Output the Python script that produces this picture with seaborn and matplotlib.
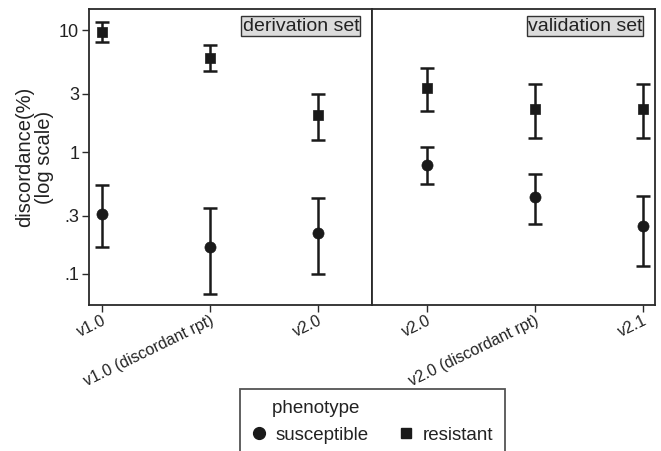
import numpy as np
import pandas as pd
import matplotlib
matplotlib.use("Agg")
import matplotlib.pyplot as plt
from matplotlib.lines import Line2D
import seaborn as sns

# data (discordance %, log scale)
derivation_versions = ["v1.0", "v1.0 (discordant rpt)", "v2.0"]
validation_versions = ["v2.0", "v2.0 (discordant rpt)", "v2.1"]

deriv_resistant = [9.7, 5.85, 2.03]
deriv_resistant_lo = [8.0, 4.6, 1.26]
deriv_resistant_hi = [11.6, 7.5, 3.0]
deriv_susceptible = [0.31, 0.166, 0.218]
deriv_susceptible_lo = [0.166, 0.068, 0.099]
deriv_susceptible_hi = [0.54, 0.347, 0.417]

valid_resistant = [3.32, 2.24, 2.24]
valid_resistant_lo = [2.19, 1.30, 1.30]
valid_resistant_hi = [4.9, 3.58, 3.58]
valid_susceptible = [0.787, 0.425, 0.247]
valid_susceptible_lo = [0.546, 0.258, 0.117]
valid_susceptible_hi = [1.10, 0.664, 0.433]

y_ticks = [0.1, 0.3, 1, 3, 10]
y_tick_labels = [".1", ".3", "1", "3", "10"]
panel_titles = ["derivation set", "validation set"]


def make_frame(versions, res, res_lo, res_hi, sus, sus_lo, sus_hi):
    rows = []
    for v, m, lo, hi in zip(versions, sus, sus_lo, sus_hi):
        rows.append({"version": v, "phenotype": "susceptible", "value": m, "lo": lo, "hi": hi})
    for v, m, lo, hi in zip(versions, res, res_lo, res_hi):
        rows.append({"version": v, "phenotype": "resistant", "value": m, "lo": lo, "hi": hi})
    return pd.DataFrame(rows)


panels = [
    make_frame(derivation_versions, deriv_resistant, deriv_resistant_lo, deriv_resistant_hi,
               deriv_susceptible, deriv_susceptible_lo, deriv_susceptible_hi),
    make_frame(validation_versions, valid_resistant, valid_resistant_lo, valid_resistant_hi,
               valid_susceptible, valid_susceptible_lo, valid_susceptible_hi),
]

sns.set_theme(style="white")
plt.rcParams['font.family'] = ['Liberation Sans', 'DejaVu Sans']

ink = "#1a1a1a"
fig = plt.figure(figsize=(6.61, 4.51), dpi=100)
ax_l = fig.add_axes([0.1346, 0.3237, 0.4281, 0.6556])
ax_r = fig.add_axes([0.5628, 0.3237, 0.4281, 0.6556], sharey=ax_l)
axes = [ax_l, ax_r]
xlims = [(-0.12, 2.5), (-0.506, 2.114)]
marker_size = {"susceptible": 64, "resistant": 50}
markers = {"susceptible": "o", "resistant": "s"}

for ax, df, title, xl in zip(axes, panels, panel_titles, xlims):
    for ph in ["susceptible", "resistant"]:
        sub = df[df["phenotype"] == ph]
        ax.errorbar(sub["version"], sub["value"],
                    yerr=[sub["value"] - sub["lo"], sub["hi"] - sub["value"]],
                    fmt="none", ecolor=ink, elinewidth=1.8, capsize=5, capthick=1.8,
                    zorder=2)
        sns.scatterplot(data=sub, x="version", y="value", marker=markers[ph],
                        s=marker_size[ph], color=ink, edgecolor=ink,
                        linewidth=0.5, ax=ax, legend=False, zorder=3)
    ax.set_yscale("log")
    ax.set_xlim(*xl)
    ax.set_xlabel("")
    ax.set_ylabel("")
    for s in ax.spines.values():
        s.set_color("#2a2a2a")
        s.set_linewidth(1.3)
    ax.tick_params(axis="x", direction="out", length=5, width=1, color="#2a2a2a",
                   labelsize=11.5, labelcolor="#222222", pad=1, bottom=True)
    plt.setp(ax.get_xticklabels(), rotation=26, ha="right", rotation_mode="anchor")
    ax.text(0.955, 0.972, title, transform=ax.transAxes, ha="right", va="top",
            fontsize=14, color="#222222",
            bbox=dict(boxstyle="square,pad=0.06", facecolor="#dcdcdc",
                      edgecolor="#333333", linewidth=1))

ax_l.set_ylim(0.0556, 14.8)
ax_l.set_yticks(y_ticks)
ax_l.set_yticklabels(y_tick_labels)
ax_l.yaxis.set_minor_locator(matplotlib.ticker.NullLocator())
ax_l.tick_params(axis="y", direction="out", length=5, width=1, color="#2a2a2a",
                 labelsize=13, labelcolor="#222222", pad=2, left=True)
ax_r.tick_params(axis="y", left=False, labelleft=False)
ax_l.set_ylabel("discordance(%)\n(log scale)", fontsize=14.5, color="#222222",
                linespacing=1.0, labelpad=4)

handles = [
    Line2D([], [], marker="o", linestyle="none", color=ink, markersize=8.5, label="susceptible"),
    Line2D([], [], marker="s", linestyle="none", color=ink, markersize=7.5, label="resistant"),
]
leg = fig.legend(handles=handles, title="    phenotype", ncol=2, loc="upper center",
                 bbox_to_anchor=(372.5 / 661, 1 - 389 / 451), borderaxespad=0,
                 frameon=True, fancybox=False,
                 edgecolor="#2a2a2a", fontsize=13.5, title_fontsize=13.5,
                 handletextpad=0.5, columnspacing=1.6, borderpad=0.6,
                 handlelength=0.8, alignment="left", labelcolor="#222222")
leg.get_title().set_color("#222222")
leg.get_frame().set_linewidth(1.3)

fig.savefig("out.png", dpi=100)
